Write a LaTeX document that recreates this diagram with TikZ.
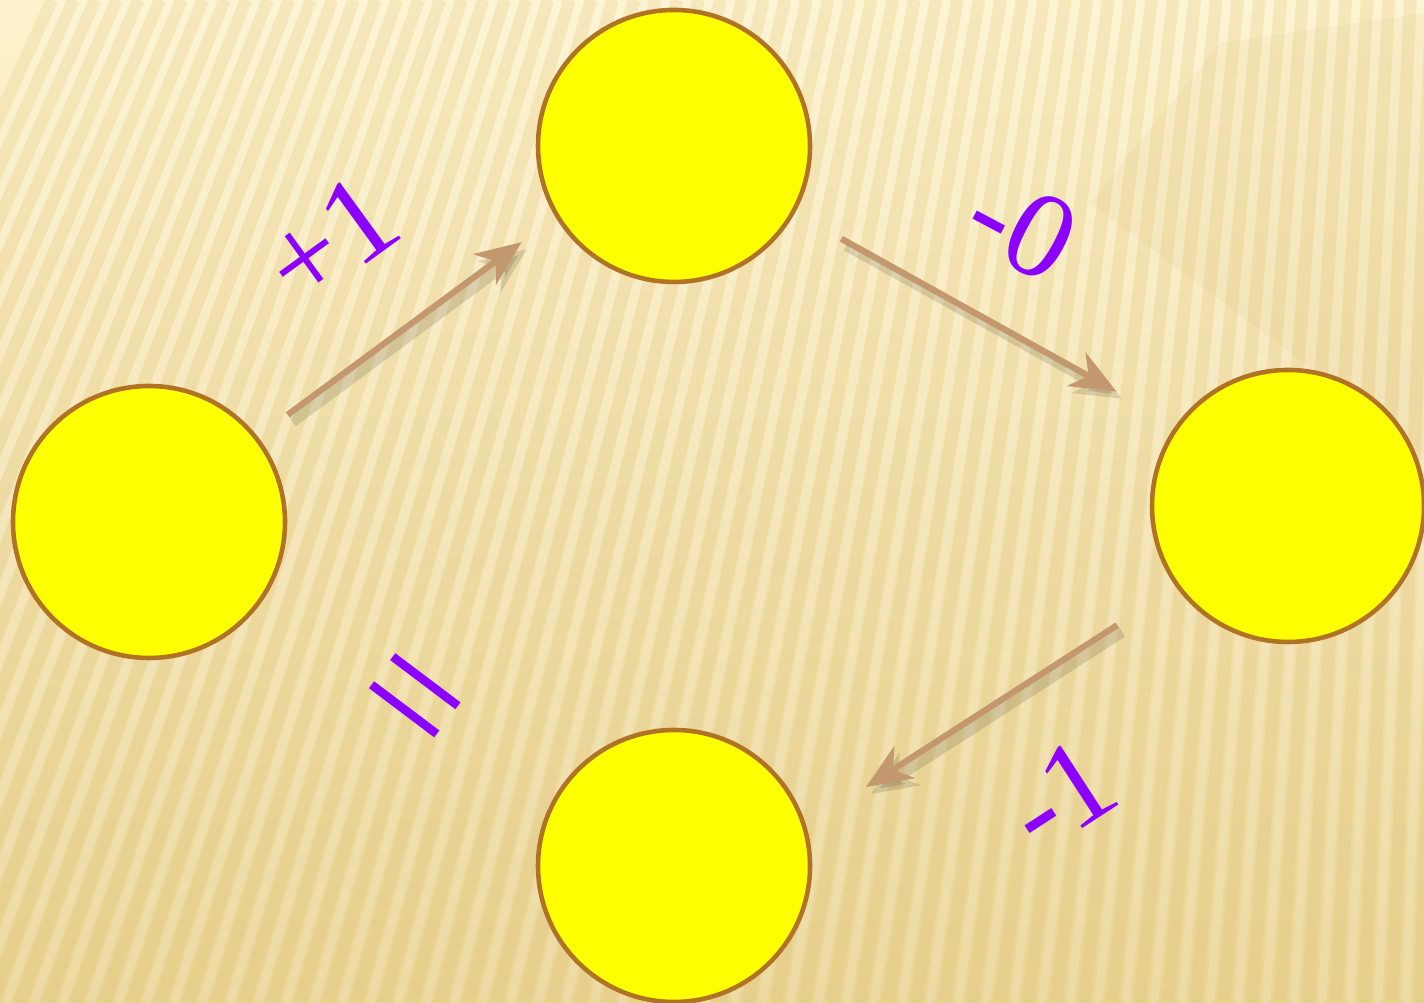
\documentclass[tikz,border=0pt]{standalone}
\usepackage{fontspec}
\setmainfont{Liberation Serif}
\usetikzlibrary{arrows.meta,calc,positioning}
\definecolor{sunyellow}{RGB}{255,255,0}
\definecolor{ballrim}{RGB}{175,115,35}
\definecolor{arrowtan}{RGB}{196,152,110}
\definecolor{markviolet}{RGB}{140,0,255}
\definecolor{papertop}{RGB}{253,242,204}
\definecolor{paperbot}{RGB}{234,212,148}
\definecolor{groove}{RGB}{205,170,80}
\tikzset{
 ball/.style={circle,draw=ballrim,line width=1.3pt,fill=sunyellow,minimum size=2.72cm,inner sep=0},
 push/.style={draw=arrowtan,line width=1.8pt,-{Stealth[length=4.6mm,width=3.8mm,inset=1.4mm]}},
 pushshade/.style={draw=black,opacity=.12,line width=3pt,-{Stealth[length=4.6mm,width=3.8mm,inset=1.4mm]},transform canvas={shift={(.05,-.07)}}},
 tally/.style={text=markviolet,font=\fontsize{35}{37}\selectfont,inner sep=0},
 groovestripe/.style={line width=3.6pt,draw=groove,opacity=.13},
 gleamstripe/.style={line width=2.4pt,draw=white,opacity=.16}
}

\begin{document}
\begin{tikzpicture}
\path[use as bounding box] (0,0) rectangle (14.24,10.03);
% paper
\shade[top color=papertop,bottom color=paperbot] (0,0) rectangle (14.24,10.03);
\begin{scope}
\clip (0,0) rectangle (14.24,10.03);
\foreach \x in {-4,-3.72,...,15.2}{
  \draw[groovestripe] (\x,0) -- ({\x+3.6-0.23*\x},10.03);
  \draw[gleamstripe] (\x+.14,0) -- ({\x+.14+3.6-0.23*(\x+.14)},10.03);
}
\fill[groove,opacity=.08] (10.9,8.0) -- (12.2,9.6) -- (14.24,9.9) -- (14.24,5.5) -- cycle;
\end{scope}
% balls
\node[ball] (nL) at (1.49,4.81) {};
\node[ball] (nT) at (6.74,8.57) {};
\node[ball] (nR) at (12.88,4.97) {};
\node[ball] (nB) at (6.74,1.37) {};
% arrows
\draw[pushshade,shorten <=.37cm,shorten >=.42cm] (nL.38) -- (nT.211);
\draw[push,shorten <=.37cm,shorten >=.42cm] (nL.38) -- (nT.211);
\draw[pushshade,shorten <=.53cm,shorten >=.68cm] (nT.-29) -- (nR.144);
\draw[push,shorten <=.53cm,shorten >=.68cm] (nT.-29) -- (nR.144);
\draw[pushshade,shorten <=.70cm,shorten >=.71cm] (nR.216) -- (nB.17);
\draw[push,shorten <=.70cm,shorten >=.71cm] (nR.216) -- (nB.17);
% marks
\node[tally,rotate=36] (lup) at (3.30,7.63) {+1};
\node[tally,rotate=-28] (lzero) at (10.22,7.76) {-0};
\node[tally,font=\fontsize{50}{52}\selectfont,rotate=-37] (leq) at (4.04,2.93) {=};
\node[tally,rotate=33] (ldown) at (10.60,2.08) {-1};
\end{tikzpicture}
\end{document}
